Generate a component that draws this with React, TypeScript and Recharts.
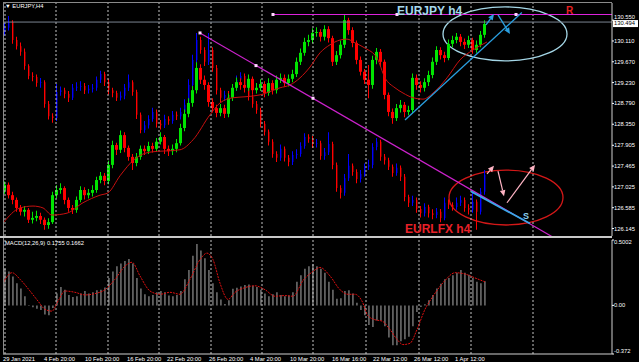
import React from "react";
import {
  Bar,
  Cell,
  ComposedChart,
  Line,
  ReferenceArea,
  ReferenceDot,
  ReferenceLine,
  XAxis,
  YAxis,
} from "recharts";

// H4 bars (every other bar), both instruments on the same price scale
const lfxFirstOpen = 130.3;
const lfxClose = [
  130.39, 130.51, 130.13, 130.0, 129.88, 129.58, 129.37, 129.35, 129.22, 129.24,
  128.78, 128.52, 128.48, 129.03, 129.07, 128.99, 128.91, 129.12, 129.14, 129.16,
  129.07, 129.1, 129.12, 129.29, 129.41, 129.24, 129.07, 129.01, 128.91, 128.95,
  129.12, 129.24, 129.03, 128.55, 128.23, 128.33, 128.46, 128.61, 128.36, 128.33,
  128.46, 128.42, 128.55, 128.52, 128.61, 128.76, 129.18, 129.71, 130.13, 129.92,
  129.67, 129.92, 129.54, 129.07, 128.91, 128.97, 128.91, 129.12, 129.29, 129.37,
  129.16, 128.93, 128.78, 128.65, 128.36, 128.19, 127.98, 127.72, 127.64, 127.83,
  127.64, 127.55, 127.7, 127.72, 127.89, 128.08, 128.04, 127.93, 127.95, 127.68,
  127.76, 127.93, 127.49, 127.0, 126.9, 127.21, 127.47, 127.34, 127.19, 127.3,
  127.45, 127.49, 127.87, 127.98, 127.66, 127.59, 127.45, 127.32, 127.43, 127.24,
  126.81, 126.69, 126.75, 126.56, 126.47, 126.6, 126.47, 126.43, 126.5, 126.37,
  126.69, 126.64, 126.6, 126.69, 126.75, 126.58, 126.54, 126.71, 126.5, 126.92,
  127.28,
];
const lfxHigh = [
  130.5, 130.64, 130.55, 130.2, 130.08, 129.95, 129.62, 129.45, 129.4, 129.33,
  129.28, 128.84, 128.58, 129.2, 129.15, 129.12, 129.05, 129.2, 129.24, 129.26,
  129.22, 129.18, 129.2, 129.36, 129.48, 129.46, 129.3, 129.12, 129.06, 129.04,
  129.2, 129.4, 129.28, 129.08, 128.6, 128.42, 128.54, 128.7, 128.66, 128.44,
  128.55, 128.52, 128.63, 128.62, 128.7, 128.88, 129.3, 129.82, 130.28, 130.2,
  129.98, 130.28, 129.98, 129.6, 129.12, 129.06, 129.05, 129.2, 129.38, 129.45,
  129.42, 129.22, 128.98, 128.84, 128.7, 128.42, 128.24, 128.03, 127.78, 127.92,
  127.88, 127.7, 127.78, 127.82, 127.97, 128.16, 128.14, 128.1, 128.04, 128.0,
  127.85, 128.18, 127.98, 127.54, 127.06, 127.3, 127.72, 127.52, 127.4, 127.38,
  127.52, 127.6, 127.95, 128.06, 128.02, 127.72, 127.64, 127.5, 127.52, 127.48,
  127.3, 126.86, 126.84, 126.8, 126.62, 126.68, 126.65, 126.55, 126.58, 126.56,
  126.8, 126.76, 126.7, 126.8, 126.84, 126.8, 126.66, 126.9, 126.76, 127.0,
  127.38,
];
const lfxLow = [
  130.22, 130.33, 130.05, 129.93, 129.8, 129.5, 129.3, 129.26, 129.14, 129.12,
  128.7, 128.45, 128.38, 128.42, 128.95, 128.9, 128.82, 128.86, 129.05, 129.06,
  128.99, 129.0, 129.02, 129.06, 129.22, 129.16, 128.98, 128.92, 128.84, 128.85,
  128.88, 129.05, 128.95, 128.46, 128.16, 128.17, 128.26, 128.4, 128.28, 128.24,
  128.27, 128.34, 128.36, 128.44, 128.45, 128.55, 128.7, 129.1, 129.64, 129.84,
  129.58, 129.6, 129.46, 128.98, 128.82, 128.84, 128.82, 128.85, 129.05, 129.22,
  129.08, 128.85, 128.7, 128.57, 128.28, 128.11, 127.9, 127.64, 127.55, 127.58,
  127.56, 127.46, 127.49, 127.62, 127.66, 127.83, 127.96, 127.85, 127.86, 127.6,
  127.6, 127.7, 127.4, 126.92, 126.78, 126.84, 127.15, 127.26, 127.1, 127.12,
  127.24, 127.38, 127.42, 127.8, 127.58, 127.5, 127.38, 127.24, 127.26, 127.15,
  126.72, 126.6, 126.62, 126.48, 126.38, 126.4, 126.38, 126.34, 126.36, 126.28,
  126.32, 126.56, 126.52, 126.54, 126.62, 126.5, 126.44, 126.48, 126.12, 126.44,
  126.86,
];

const jpyFirstOpen = 126.95;
const jpyClose = [
  127.07, 126.85, 126.75, 126.58, 126.5, 126.54, 126.33, 126.37, 126.41, 126.33,
  126.22, 126.28, 126.85, 126.96, 127.0, 126.75, 126.58, 126.54, 126.75, 126.96,
  126.85, 126.9, 126.96, 127.17, 127.26, 127.15, 127.49, 127.91, 127.81, 128.12,
  127.85, 127.66, 127.53, 127.66, 127.83, 127.78, 127.89, 127.83, 127.98, 128.08,
  127.83, 127.78, 127.83, 127.95, 128.27, 128.57, 128.8, 129.07, 129.54, 129.29,
  129.18, 128.82, 128.69, 128.59, 128.69, 128.57, 128.91, 129.12, 129.24, 129.18,
  129.12, 129.31, 129.07, 129.12, 129.2, 129.01, 129.22, 129.07, 129.29, 129.33,
  129.22, 129.31, 129.41, 129.67, 129.86, 130.09, 130.13, 130.28, 130.3, 130.2,
  130.36, 130.17, 129.67, 129.81, 130.03, 130.55, 130.34, 130.07, 129.71, 129.46,
  129.29, 129.18, 129.71, 129.88, 129.67, 128.97, 128.61, 128.48, 128.69, 128.76,
  128.61, 128.65, 129.33, 129.18, 129.12, 129.24, 129.39, 129.67, 129.92, 129.81,
  129.75, 130.05, 130.13, 130.2, 130.09, 130.03, 130.13, 129.92, 130.03, 130.24,
  130.47,
];
const jpyHigh = [
  127.14, 127.12, 126.92, 126.8, 126.64, 126.62, 126.58, 126.5, 126.52, 126.48,
  126.38, 126.36, 126.92, 127.06, 127.1, 127.04, 126.8, 126.64, 126.82, 127.04,
  127.02, 126.98, 127.06, 127.24, 127.34, 127.32, 127.58, 128.0, 127.96, 128.22,
  128.18, 127.9, 127.72, 127.74, 127.9, 127.9, 127.98, 127.96, 128.06, 128.18,
  128.12, 127.9, 127.92, 128.04, 128.36, 128.66, 128.9, 129.16, 129.66, 129.62,
  129.38, 129.24, 128.9, 128.76, 128.78, 128.76, 129.0, 129.2, 129.34, 129.32,
  129.26, 129.4, 129.36, 129.22, 129.3, 129.26, 129.32, 129.28, 129.38, 129.42,
  129.4, 129.4, 129.5, 129.76, 129.95, 130.18, 130.24, 130.38, 130.4, 130.36,
  130.44, 130.42, 130.22, 129.9, 130.12, 130.66, 130.6, 130.4, 130.12, 129.78,
  129.52, 129.6, 129.8, 129.96, 129.94, 129.72, 129.02, 128.68, 128.78, 128.86,
  128.82, 128.74, 129.42, 129.4, 129.26, 129.32, 129.48, 129.76, 130.0, 129.98,
  129.88, 130.14, 130.22, 130.28, 130.26, 130.16, 130.22, 130.18, 130.12, 130.32,
  130.55,
];
const jpyLow = [
  126.88, 126.78, 126.66, 126.5, 126.42, 126.4, 126.26, 126.25, 126.3, 126.24,
  126.12, 126.14, 126.24, 126.78, 126.88, 126.66, 126.5, 126.45, 126.48, 126.7,
  126.76, 126.78, 126.82, 126.9, 127.1, 127.06, 127.08, 127.42, 127.7, 127.74,
  127.76, 127.58, 127.38, 127.46, 127.6, 127.7, 127.72, 127.75, 127.77, 127.92,
  127.72, 127.68, 127.7, 127.76, 127.9, 128.2, 128.5, 128.72, 129.0, 129.2,
  129.08, 128.72, 128.6, 128.5, 128.52, 128.48, 128.5, 128.84, 129.06, 129.08,
  129.02, 129.06, 128.98, 129.0, 129.05, 128.92, 128.95, 128.98, 129.0, 129.22,
  129.14, 129.15, 129.24, 129.35, 129.6, 129.8, 130.0, 130.06, 130.2, 130.1,
  130.12, 130.08, 129.58, 129.6, 129.74, 129.96, 130.24, 129.98, 129.62, 129.38,
  129.2, 128.9, 129.1, 129.62, 129.58, 128.88, 128.52, 128.36, 128.42, 128.6,
  128.5, 128.54, 128.58, 129.08, 129.02, 129.04, 129.16, 129.32, 129.6, 129.72,
  129.66, 129.7, 129.98, 130.06, 130.0, 129.94, 129.96, 129.84, 129.86, 129.98,
  130.18,
];

// red moving average on EURJPY (bar index, price)
const maIdx = [
  -0.5, 3.75, 7, 9.5, 11.75, 15.5, 19.5, 23.75, 25.75, 28.75, 32.5, 36.25, 43.75, 47, 51.25, 53.75, 57, 60,
  63.75, 68.75, 71.25, 73.75, 76.25, 78.75, 81.25, 83.75, 85.5, 87.5, 90, 93, 95, 97.5, 99.5, 102, 104.5,
  107, 110.5, 113.75, 117, 120.5,
];
const maVal = [
  126.26, 126.58, 126.62, 126.58, 126.43, 126.47, 126.69, 126.85, 126.9, 127.26, 127.62, 127.76, 127.81,
  128.02, 128.55, 128.8, 128.91, 128.93, 128.97, 129.12, 129.18, 129.33, 129.56, 129.86, 130.03, 130.13,
  130.15, 130.07, 129.96, 129.75, 129.33, 129.12, 129.01, 128.91, 128.88, 129.01, 129.33, 129.71, 129.92,
  130.09,
];

// MACD(12,26,9)
const macdHist = [
  0.28, 0.26, 0.22, 0.17, 0.13, 0.07, -0.005, -0.015, -0.025, -0.035,
  -0.07, -0.075, -0.02, 0.09, 0.14, 0.12, 0.08, 0.065, 0.07, 0.09,
  0.11, 0.09, 0.1, 0.115, 0.12, 0.136, 0.21, 0.26, 0.3, 0.32,
  0.34, 0.355, 0.32, 0.21, 0.13, 0.085, 0.07, 0.08, 0.1, 0.11,
  0.1, 0.075, 0.07, 0.08, 0.11, 0.2, 0.27, 0.38, 0.47, 0.42,
  0.36, 0.27, 0.17, 0.1, 0.045, 0.01, 0.04, 0.128, 0.135, 0.145,
  0.155, 0.16, 0.15, 0.14, 0.12, 0.09, 0.07, 0.085, 0.1, 0.08,
  0.07, 0.075, 0.1, 0.18, 0.23, 0.28, 0.3, 0.315, 0.3, 0.28,
  0.25, 0.18, 0.12, 0.05, 0.055, 0.11, 0.115, 0.09, 0.02, -0.035,
  -0.075, -0.15, -0.165, -0.115, -0.115, -0.16, -0.245, -0.305, -0.305, -0.275,
  -0.26, -0.24, -0.16, -0.05, -0.012, 0.008, 0.04, 0.08, 0.13, 0.165,
  0.2, 0.21, 0.23, 0.25, 0.27, 0.25, 0.235, 0.21, 0.18, 0.17,
  0.185,
];
const signalIdx = [
  -0.5, 1.75, 3.75, 6.25, 8.25, 10, 11.75, 13.25, 15, 17.5, 20, 22.5, 25, 27.5, 30, 31.75, 33.75, 36.25,
  38.75, 41.25, 43.75, 46.25, 48.75, 50.5, 52, 53.75, 55.75, 57.5, 60, 62.5, 65, 67.5, 70, 72, 74.5, 77,
  78.75, 81.25, 83.75, 85.75, 87.5, 89.25, 90.75, 92.5, 94.25, 96.25, 98, 99.5, 101.25, 103, 105, 107, 110,
  112.5, 115, 117.5, 120,
];
const signalVal = [
  0.17, 0.25, 0.2, 0.11, 0.033, -0.03, -0.044, 0.033, 0.11, 0.1, 0.08, 0.09, 0.12, 0.2, 0.3, 0.33, 0.225,
  0.11, 0.085, 0.1, 0.085, 0.2, 0.35, 0.4, 0.35, 0.17, 0.046, 0.1, 0.136, 0.15, 0.12, 0.07, 0.075, 0.07,
  0.19, 0.26, 0.29, 0.225, 0.12, 0.085, 0.085, 0.033, -0.08, -0.11, -0.12, -0.185, -0.26, -0.3, -0.29,
  -0.185, -0.03, 0.07, 0.19, 0.25, 0.24, 0.21, 0.18,
];

const timeTicks = [-0.5, 9.75, 20, 30.5, 40.5, 51, 61.25, 71.25, 81.75, 92, 102.25, 112.5];
const timeLabels = [
  "29 Jan 2021", "4 Feb 20:00", "10 Feb 20:00", "16 Feb 20:00", "22 Feb 20:00", "26 Feb 20:00",
  "4 Mar 20:00", "10 Mar 20:00", "16 Mar 16:00", "22 Mar 12:00", "26 Mar 12:00", "1 Apr 12:00",
];
const gridTicks = [0, 12.75, 25.75, 38.5, 51.5, 64.25, 77, 90.25, 103.5, 116.5, 132];
const priceTicks = [130.55, 130.11, 129.67, 129.23, 128.79, 128.35, 127.905, 127.465, 127.025, 126.585, 126.145];
const macdTicks = [0.5002, 0, -0.372];
const macdTickLabels = ["0.5002", "0.00", "-0.372"];
const bidPrice = 130.51;
const bidLabel = "130.494";

const X_DOMAIN: [number, number] = [-0.5, 151.75];
const PRICE_DOMAIN: [number, number] = [125.987, 130.913];
const MACD_DOMAIN: [number, number] = [-0.372, 0.5002];

const FONT = "'Liberation Sans', Arial, sans-serif";
const GRID = "#c4c4c4";
const RED = "#ff0000";

const candles = lfxClose.map((c, i) => {
  const ao = i === 0 ? lfxFirstOpen : lfxClose[i - 1];
  const jc = jpyClose[i];
  const bo = i === 0 ? jpyFirstOpen : jpyClose[i - 1];
  return {
    i,
    lfxBody: [Math.min(ao, c), Math.max(ao, c)],
    lfxWick: [lfxLow[i], lfxHigh[i]],
    lfxUp: c >= ao,
    jpyBody: [Math.min(bo, jc), Math.max(bo, jc)],
    jpyWick: [jpyLow[i], jpyHigh[i]],
    jpyUp: jc >= bo,
    hist: macdHist[i],
  };
});
const maRows = maIdx.map((i, k) => ({ i, v: maVal[k] }));
const signalRows = signalIdx.map((i, k) => ({ i, v: signalVal[k] }));

function arrowShape(color: string, w = 1) {
  return (p: any) => {
    const { x1, y1, x2, y2 } = p;
    const a = Math.atan2(y2 - y1, x2 - x1);
    const bx = x2 - 6 * Math.cos(a);
    const by = y2 - 6 * Math.sin(a);
    const s = 2.8 * Math.sin(a);
    const c = 2.8 * Math.cos(a);
    return (
      <g>
        <line x1={x1} y1={y1} x2={bx} y2={by} stroke={color} strokeWidth={w} />
        <polygon points={`${x2},${y2} ${bx + s},${by - c} ${bx - s},${by + c}`} fill={color} />
      </g>
    );
  };
}

function textShape(text: string, color: string, size: number) {
  return (p: any) => (
    <text x={p.cx} y={p.cy} fill={color} fontSize={size} fontWeight="bold" fontFamily={FONT}>
      {text}
    </text>
  );
}

const square = (p: any) => <rect x={p.cx - 1.5} y={p.cy - 1.5} width={3} height={3} fill="#ffd8ff" />;

function ellipseShape(color: string) {
  return (p: any) => (
    <ellipse
      cx={p.x + p.width / 2}
      cy={p.y + p.height / 2}
      rx={p.width / 2}
      ry={p.height / 2}
      fill="none"
      stroke={color}
      strokeWidth={1.3}
    />
  );
}

function PriceTick(props: any) {
  const { x, y, payload } = props;
  const v = Number(payload.value);
  return (
    <text x={x} y={y} dy={v === 130.55 ? -1 : 2} fill="#fff" fontSize={5.8} fontFamily={FONT}>
      {v.toFixed(3)}
    </text>
  );
}

function MacdTick(props: any) {
  const { x, y, payload } = props;
  const k = macdTicks.indexOf(payload.value);
  const dy = k === 0 ? 3.5 : k === 2 ? -1 : 2;
  return (
    <text x={x} y={y} dy={dy} fill="#fff" fontSize={5.8} fontFamily={FONT}>
      {macdTickLabels[k]}
    </text>
  );
}

function TimeTick(props: any) {
  const { x, y, payload } = props;
  const k = timeTicks.indexOf(payload.value);
  return (
    <text x={x} y={y + 6.5} fill="#fff" fontSize={5.8} fontFamily={FONT}>
      {timeLabels[k]}
    </text>
  );
}

const bidBox = (p: any) => (
  <g>
    <rect x={p.cx + 1} y={p.cy - 2} width={25} height={7} fill="#fff" />
    <text x={p.cx + 2} y={p.cy + 3.4} fill="#000" fontSize={5.8} fontFamily={FONT}>
      {bidLabel}
    </text>
  </g>
);

function MainChart() {
  return (
    <ComposedChart width={639} height={237} data={candles} margin={{ top: 3, right: 0, bottom: 1, left: 3 }}>
      <XAxis type="number" dataKey="i" domain={X_DOMAIN} allowDataOverflow hide />
      <XAxis xAxisId="aw" type="number" dataKey="i" domain={X_DOMAIN} allowDataOverflow hide />
      <XAxis xAxisId="bw" type="number" dataKey="i" domain={X_DOMAIN} allowDataOverflow hide />
      <XAxis xAxisId="bb" type="number" dataKey="i" domain={X_DOMAIN} allowDataOverflow hide />
      <YAxis
        orientation="right"
        width={27}
        type="number"
        domain={PRICE_DOMAIN}
        ticks={priceTicks}
        allowDataOverflow
        interval={0}
        tick={<PriceTick />}
        tickSize={2}
        tickMargin={0}
        tickLine={{ stroke: "#fff" }}
        axisLine={{ stroke: "#d0d0d0" }}
      />
      {gridTicks.map((g) => (
        <ReferenceLine key={g} x={g} stroke={GRID} strokeDasharray="2 2" />
      ))}
      <ReferenceLine y={bidPrice} stroke="#7a8490" />

      <Bar xAxisId="aw" dataKey="lfxWick" barSize={1} isAnimationActive={false}>
        {candles.map((d) => (
          <Cell key={d.i} fill={d.lfxUp ? "#0000ff" : RED} />
        ))}
      </Bar>
      <Bar dataKey="lfxBody" barSize={3} isAnimationActive={false}>
        {candles.map((d) => (
          <Cell key={d.i} fill={d.lfxUp ? "#0000ff" : RED} />
        ))}
      </Bar>
      <Bar xAxisId="bw" dataKey="jpyWick" barSize={1} isAnimationActive={false}>
        {candles.map((d) => (
          <Cell key={d.i} fill={d.jpyUp ? "#00e400" : RED} />
        ))}
      </Bar>
      <Bar xAxisId="bb" dataKey="jpyBody" barSize={3} isAnimationActive={false}>
        {candles.map((d) => (
          <Cell key={d.i} fill={d.jpyUp ? "#00e400" : RED} />
        ))}
      </Bar>
      <Line data={maRows} dataKey="v" type="monotone" stroke="#c81010" strokeWidth={1} dot={false} isAnimationActive={false} />

      <ReferenceLine segment={[{ x: 67, y: 130.67 }, { x: 151.75, y: 130.67 }]} stroke="#dd22dd" strokeWidth={1.2} />
      <ReferenceLine
        segment={[{ x: 48.75, y: 130.28 }, { x: 151.75, y: 125.24 }]}
        stroke="#cc22cc"
        strokeWidth={1.2}
        ifOverflow="hidden"
      />
      <ReferenceLine segment={[{ x: 100, y: 128.44 }, { x: 129.2, y: 130.71 }]} stroke="#2a9fe0" strokeWidth={1.3} />
      <ReferenceLine segment={[{ x: 116.5, y: 126.93 }, { x: 131.25, y: 126.25 }]} stroke="#3aa8e8" strokeWidth={1.8} />

      <ReferenceArea x1={109.5} x2={140.5} y1={129.69} y2={130.83} shape={ellipseShape("#a4d6e6")} />
      <ReferenceArea x1={111} x2={139.5} y1={126.22} y2={127.38} shape={ellipseShape("#d41818")} />

      <ReferenceLine segment={[{ x: 120.25, y: 130.45 }, { x: 122.25, y: 130.68 }]} shape={arrowShape("#2a9fe0", 1.3)} />
      <ReferenceLine segment={[{ x: 123.25, y: 130.66 }, { x: 126.25, y: 130.26 }]} shape={arrowShape("#2a9fe0", 1.3)} />
      <ReferenceLine segment={[{ x: 120.5, y: 127.3 }, { x: 122.25, y: 127.47 }]} shape={arrowShape("#ffb4c4", 1.2)} />
      <ReferenceLine segment={[{ x: 123.25, y: 127.36 }, { x: 124.75, y: 126.83 }]} shape={arrowShape("#ffb4c4", 1.2)} />
      <ReferenceLine segment={[{ x: 125.5, y: 126.69 }, { x: 132.5, y: 127.49 }]} shape={arrowShape("#ffb4c4", 1.2)} />

      <ReferenceDot x={48.75} y={130.28} shape={square} />
      <ReferenceDot x={62.75} y={129.59} shape={square} />
      <ReferenceDot x={77} y={128.9} shape={square} />
      <ReferenceDot x={67} y={130.67} shape={square} />
      <ReferenceDot x={98} y={130.67} shape={square} />
      <ReferenceDot x={127.75} y={130.67} shape={square} />

      <ReferenceDot x={98} y={130.66} shape={textShape("EURJPY h4", "#a6d8ec", 12)} />
      <ReferenceDot x={140.25} y={130.68} shape={textShape("R", "#e82020", 10)} />
      <ReferenceDot x={100} y={126.05} shape={textShape("EURLFX h4", "#e82028", 12)} />
      <ReferenceDot x={129.5} y={126.35} shape={textShape("S", "#8ccfee", 9)} />
      <ReferenceDot x={151.75} y={bidPrice} shape={bidBox} />
    </ComposedChart>
  );
}

function MacdChart() {
  return (
    <ComposedChart width={639} height={125} data={candles} margin={{ top: 3, right: 0, bottom: 0, left: 3 }}>
      <XAxis
        type="number"
        dataKey="i"
        domain={X_DOMAIN}
        allowDataOverflow
        ticks={timeTicks}
        interval={0}
        height={8}
        tick={<TimeTick />}
        tickSize={0}
        tickMargin={0}
        tickLine={false}
        axisLine={{ stroke: "#d0d0d0" }}
      />
      <YAxis
        orientation="right"
        width={27}
        type="number"
        domain={MACD_DOMAIN}
        ticks={macdTicks}
        allowDataOverflow
        interval={0}
        tick={<MacdTick />}
        tickSize={2}
        tickMargin={0}
        tickLine={{ stroke: "#fff" }}
        axisLine={{ stroke: "#d0d0d0" }}
      />
      {gridTicks.map((g) => (
        <ReferenceLine key={g} x={g} stroke={GRID} strokeDasharray="2 2" />
      ))}
      <Bar dataKey="hist" barSize={2} fill="#c0c0c0" isAnimationActive={false} />
      <Line
        data={signalRows}
        dataKey="v"
        type="monotone"
        stroke="#e01010"
        strokeWidth={1}
        strokeDasharray="2 1"
        dot={false}
        isAnimationActive={false}
      />
    </ComposedChart>
  );
}

export default function App() {
  return (
    <div style={{ position: "relative", width: 639, height: 362, background: "#000", overflow: "hidden" }}>
      <style>{"body{margin:0;background:#000}"}</style>
      <MainChart />
      <MacdChart />
      <div style={{ position: "absolute", left: 3, top: 2, width: 609, height: 1, background: "#8a8a8a" }} />
      <div style={{ position: "absolute", left: 3, top: 2, width: 1, height: 352, background: "#8a8a8a" }} />
      <div style={{ position: "absolute", left: 0, top: 236, width: 612, height: 2, background: "#c8c8c8" }} />
      <div
        style={{
          position: "absolute",
          left: 5,
          top: 2,
          color: "#fff",
          fontSize: 5.8,
          fontFamily: FONT,
          lineHeight: "8px",
          whiteSpace: "nowrap",
        }}
      >
        {"\u25BC EURJPY,H4"}
      </div>
      <div
        style={{
          position: "absolute",
          left: 5,
          top: 239,
          color: "#fff",
          fontSize: 5.8,
          fontFamily: FONT,
          lineHeight: "8px",
          whiteSpace: "nowrap",
        }}
      >
        MACD(12,26,9) 0.1755 0.1662
      </div>
    </div>
  );
}
